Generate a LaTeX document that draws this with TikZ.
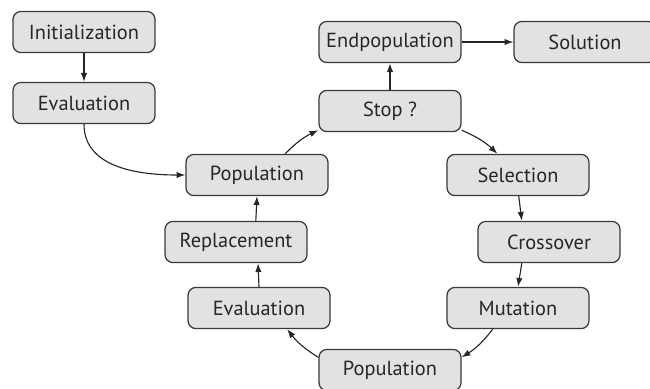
\documentclass[tikz,border=0pt]{standalone}
\usepackage{fontspec}
\setmainfont{PT Sans}
\usepackage{xcolor}
\usetikzlibrary{arrows.meta}

\definecolor{boxfill}{HTML}{E2E2E2}
\definecolor{boxline}{HTML}{3A3A3A}

\begin{document}
\begin{tikzpicture}[x=0.025cm, y=-0.025cm,
  stage/.style={draw=boxline, fill=boxfill, line width=0.9pt, rounded corners=0.2cm,
    minimum width=3.55cm, minimum height=1.03cm, inner sep=0pt,
    text=black!85, font=\fontsize{14.5}{17}\selectfont},
  link/.style={draw=black!85, line width=0.8pt, -{Latex[length=2.2mm, width=1.6mm]}}]
  % Keep the frame of the reference
  \useasboundingbox (0,0) rectangle (650,388);

  % Start
  \node[stage] (init) at (84,32) {Initialization};
  \node[stage] (evalA) at (84,103) {Evaluation};

  % Loop
  \node[stage] (popA) at (257,175) {Population};
  \node[stage] (stop) at (390,111) {Stop ?};
  \node[stage] (endpop) at (390,42) {Endpopulation};
  \node[stage] (sol) at (585,42) {Solution};
  \node[stage] (sel) at (518,175) {Selection};
  \node[stage] (cross) at (549,242) {Crossover};
  \node[stage] (mut) at (518,308) {Mutation};
  \node[stage] (popB) at (390,370) {Population};
  \node[stage] (evalB) at (259,308) {Evaluation};
  \node[stage] (repl) at (236,242) {Replacement};

  \draw[link] (init) -- (evalA);
  \draw[link] (evalA.south) to[out=-90, in=180] (popA.west);
  \draw[link] (popA.37) to[bend left=10] (stop.195);
  \draw[link] (stop) -- (endpop);
  \draw[link] (endpop) -- (sol);
  \draw[link] (stop.-15) to[bend left=10] (sel.134);
  \draw[link] (sel.-88) -- (cross.142);
  \draw[link] (cross.218) -- (mut.north);
  \draw[link] (mut.220) to[bend left=10] (popB.10);
  \draw[link] (popB.170) to[bend left=10] (evalB.-37);
  \draw[link] (evalB.north) -- (repl.-44);
  \draw[link] (repl.47) -- (popA.south);
\end{tikzpicture}
\end{document}
